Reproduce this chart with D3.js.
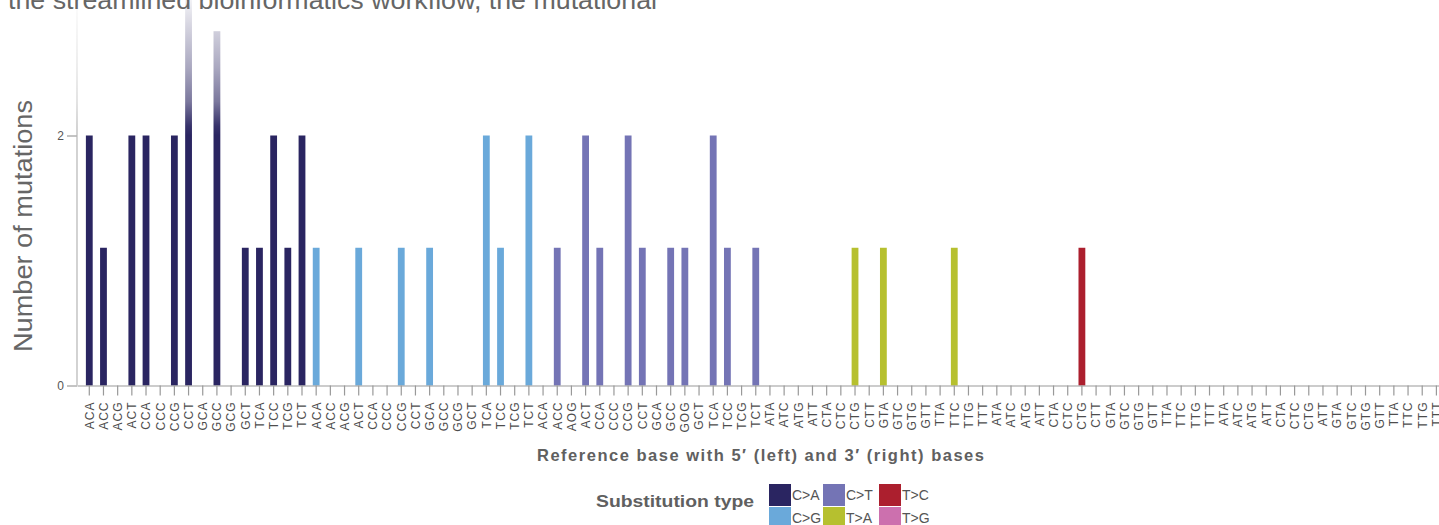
<!DOCTYPE html>
<html>
<head>
<meta charset="utf-8">
<script src="https://cdn.jsdelivr.net/npm/d3@7/dist/d3.min.js"></script>
<style>
  html, body { margin: 0; padding: 0; background: #fff; }
  svg { display: block; font-family: "Liberation Sans", Arial, Helvetica, sans-serif; }
</style>
</head>
<body>
<svg id="chart" width="1439" height="525"></svg>
<script>
// Substitution classes and their colours
const types = ["C>A", "C>G", "C>T", "T>A", "T>C", "T>G"];
const typeColors = ["#2a2561", "#6aa9da", "#7474b5", "#b6c02f", "#ac1f2e", "#cc70ae"];

// Trinucleotide context labels, 16 per substitution class
const labelsCA = ["ACA","ACC","ACG","ACT","CCA","CCC","CCG","CCT","GCA","GCC","GCG","GCT","TCA","TCC","TCG","TCT"];
const labelsCG = ["ACA","ACC","ACG","ACT","CCA","CCC","CCG","CCT","GCA","GCC","GCG","GCT","TCA","TCC","TCG","TCT"];
const labelsCT = ["ACA","ACC","AOG","ACT","CCA","CCC","CCG","CCT","GCA","GCC","GOG","GCT","TCA","TCC","TCG","TCT"];
const labelsTA = ["ATA","ATC","ATG","ATT","CTA","CTC","CTG","CTT","GTA","GTC","GTG","GTT","TTA","TTC","TTG","TTT"];
const labelsTC = ["ATA","ATC","ATG","ATT","CTA","CTC","CTG","CTT","GTA","GTC","GTG","GTT","TTA","TTC","TTG","TTT"];
const labelsTG = ["ATA","ATC","ATG","ATT","CTA","CTC","CTG","ATT","GTA","GTC","GTG","GTT","TTA","TTC","TTG","TTT"];

// Mutation counts per context
const countsCA = [2,1,0,2,2,0,2,4,0,3,0,1,1,2,1,2];
const countsCG = [1,0,0,1,0,0,1,0,1,0,0,0,2,1,0,2];
const countsCT = [0,1,0,2,1,0,2,1,0,1,1,0,2,1,0,1];
const countsTA = [0,0,0,0,0,0,1,0,1,0,0,0,0,1,0,0];
const countsTC = [0,0,0,0,0,0,1,0,0,0,0,0,0,0,0,0];
const countsTG = [0,0,0,0,0,0,0,0,0,0,0,0,0,0,0,0];

const yTicks = [0, 2];
const introText = "the streamlined bioinformatics workflow, the mutational";
const xTitle = "Reference base with 5\u2032 (left) and 3\u2032 (right) bases";
const yTitle = "Number of mutations";
const legendTitle = "Substitution type";

const labelGroups = [labelsCA, labelsCG, labelsCT, labelsTA, labelsTC, labelsTG];
const countGroups = [countsCA, countsCG, countsCT, countsTA, countsTC, countsTG];
const data = [];
labelGroups.forEach((labels, g) => {
  labels.forEach((lab, i) => {
    data.push({ idx: data.length, label: lab, type: types[g], value: countGroups[g][i] });
  });
});

const W = 1439, H = 525;
const left = 77, baseline = 385.5, twoLevel = 135.5;
const svg = d3.select("#chart");

const color = d3.scaleOrdinal().domain(types).range(typeColors);

const x = d3.scaleBand()
  .domain(data.map(d => d.idx))
  .range([left, 1448.7])
  .paddingInner(0.52)
  .paddingOuter(0.627);

const y = d3.scalePow().exponent(0.86)
  .domain([0, 2])
  .range([baseline, twoLevel]);

// Bars
svg.append("g")
  .selectAll("rect")
  .data(data.filter(d => d.value > 0))
  .join("rect")
  .attr("x", d => x(d.idx))
  .attr("width", x.bandwidth())
  .attr("y", d => y(d.value))
  .attr("height", d => y(0) - y(d.value))
  .attr("fill", d => color(d.type));

// Y axis
const yAxis = svg.append("g")
  .attr("transform", `translate(${left},0)`)
  .call(d3.axisLeft(y).tickValues(yTicks).tickFormat(d3.format("d"))
    .tickSize(10).tickSizeOuter(0).tickPadding(3));
yAxis.select(".domain").remove();
yAxis.append("line")
  .attr("x1", 0).attr("x2", 0)
  .attr("y1", y(0)).attr("y2", 0)
  .attr("stroke", "#b5b5b5").attr("stroke-width", 1.2);
yAxis.selectAll(".tick line").attr("stroke", "#888");
yAxis.selectAll(".tick text").attr("fill", "#555").style("font-size", "12px");

// X axis with rotated context labels
const xAxis = svg.append("g")
  .attr("transform", `translate(0,${baseline})`)
  .call(d3.axisBottom(x).tickSize(10).tickSizeOuter(0).tickFormat(i => data[i].label));
xAxis.select(".domain").attr("stroke", "#999").attr("stroke-width", 1.2);
xAxis.selectAll(".tick line").attr("stroke", "#999").attr("stroke-width", 1.2);
xAxis.selectAll(".tick text")
  .attr("transform", "rotate(-90)")
  .attr("x", -16)
  .attr("y", 0)
  .attr("dy", "0.36em")
  .attr("text-anchor", "end")
  .attr("fill", "#4d4d4d")
  .style("font-size", "12px")
  .style("letter-spacing", "1px");

// White fade over everything above the "2" level
const defs = svg.append("defs");
const grad = defs.append("linearGradient")
  .attr("id", "topFade")
  .attr("gradientUnits", "userSpaceOnUse")
  .attr("x1", 0).attr("x2", 0)
  .attr("y1", 0).attr("y2", y(2));
[[0, 0.94], [0.2, 0.8], [0.5, 0.6], [0.75, 0.38], [0.93, 0.06], [1, 0]].forEach(([o, a]) => {
  grad.append("stop").attr("offset", o).attr("stop-color", "#fff").attr("stop-opacity", a);
});
svg.append("rect")
  .attr("x", 0).attr("y", 0)
  .attr("width", W).attr("height", y(2))
  .attr("fill", "url(#topFade)");

// Axis titles
svg.append("text")
  .attr("x", 760.5).attr("y", 461)
  .attr("text-anchor", "middle")
  .attr("fill", "#606060")
  .style("font-size", "16.5px")
  .style("font-weight", "bold")
  .attr("textLength", 447)
  .attr("lengthAdjust", "spacing")
  .text(xTitle);

svg.append("text")
  .attr("transform", "translate(32,226) rotate(-90)")
  .attr("text-anchor", "middle")
  .attr("fill", "#666")
  .style("font-size", "25px")
  .attr("textLength", 252)
  .attr("lengthAdjust", "spacingAndGlyphs")
  .text(yTitle);

// Legend
const legend = svg.append("g");
legend.append("text")
  .attr("x", 754).attr("y", 507)
  .attr("text-anchor", "end")
  .attr("fill", "#606060")
  .style("font-size", "17px")
  .style("font-weight", "bold")
  .attr("textLength", 158)
  .attr("lengthAdjust", "spacingAndGlyphs")
  .text(legendTitle);

const colX = [769, 823, 879];
const items = legend.selectAll("g.item")
  .data(types)
  .join("g")
  .attr("class", "item")
  .attr("transform", (t, i) => `translate(${colX[Math.floor(i / 2)]},${484 + (i % 2) * 23})`);
items.append("rect")
  .attr("width", 22).attr("height", 22)
  .attr("fill", t => color(t));
items.append("text")
  .attr("x", 23).attr("y", 11)
  .attr("dy", "0.36em")
  .attr("fill", "#555")
  .style("font-size", "14px")
  .text(t => t);

// Running text above the chart
svg.append("text")
  .attr("x", 8).attr("y", 9)
  .attr("fill", "#666")
  .style("font-size", "25px")
  .attr("textLength", 649)
  .attr("lengthAdjust", "spacingAndGlyphs")
  .text(introText);
</script>
</body>
</html>
